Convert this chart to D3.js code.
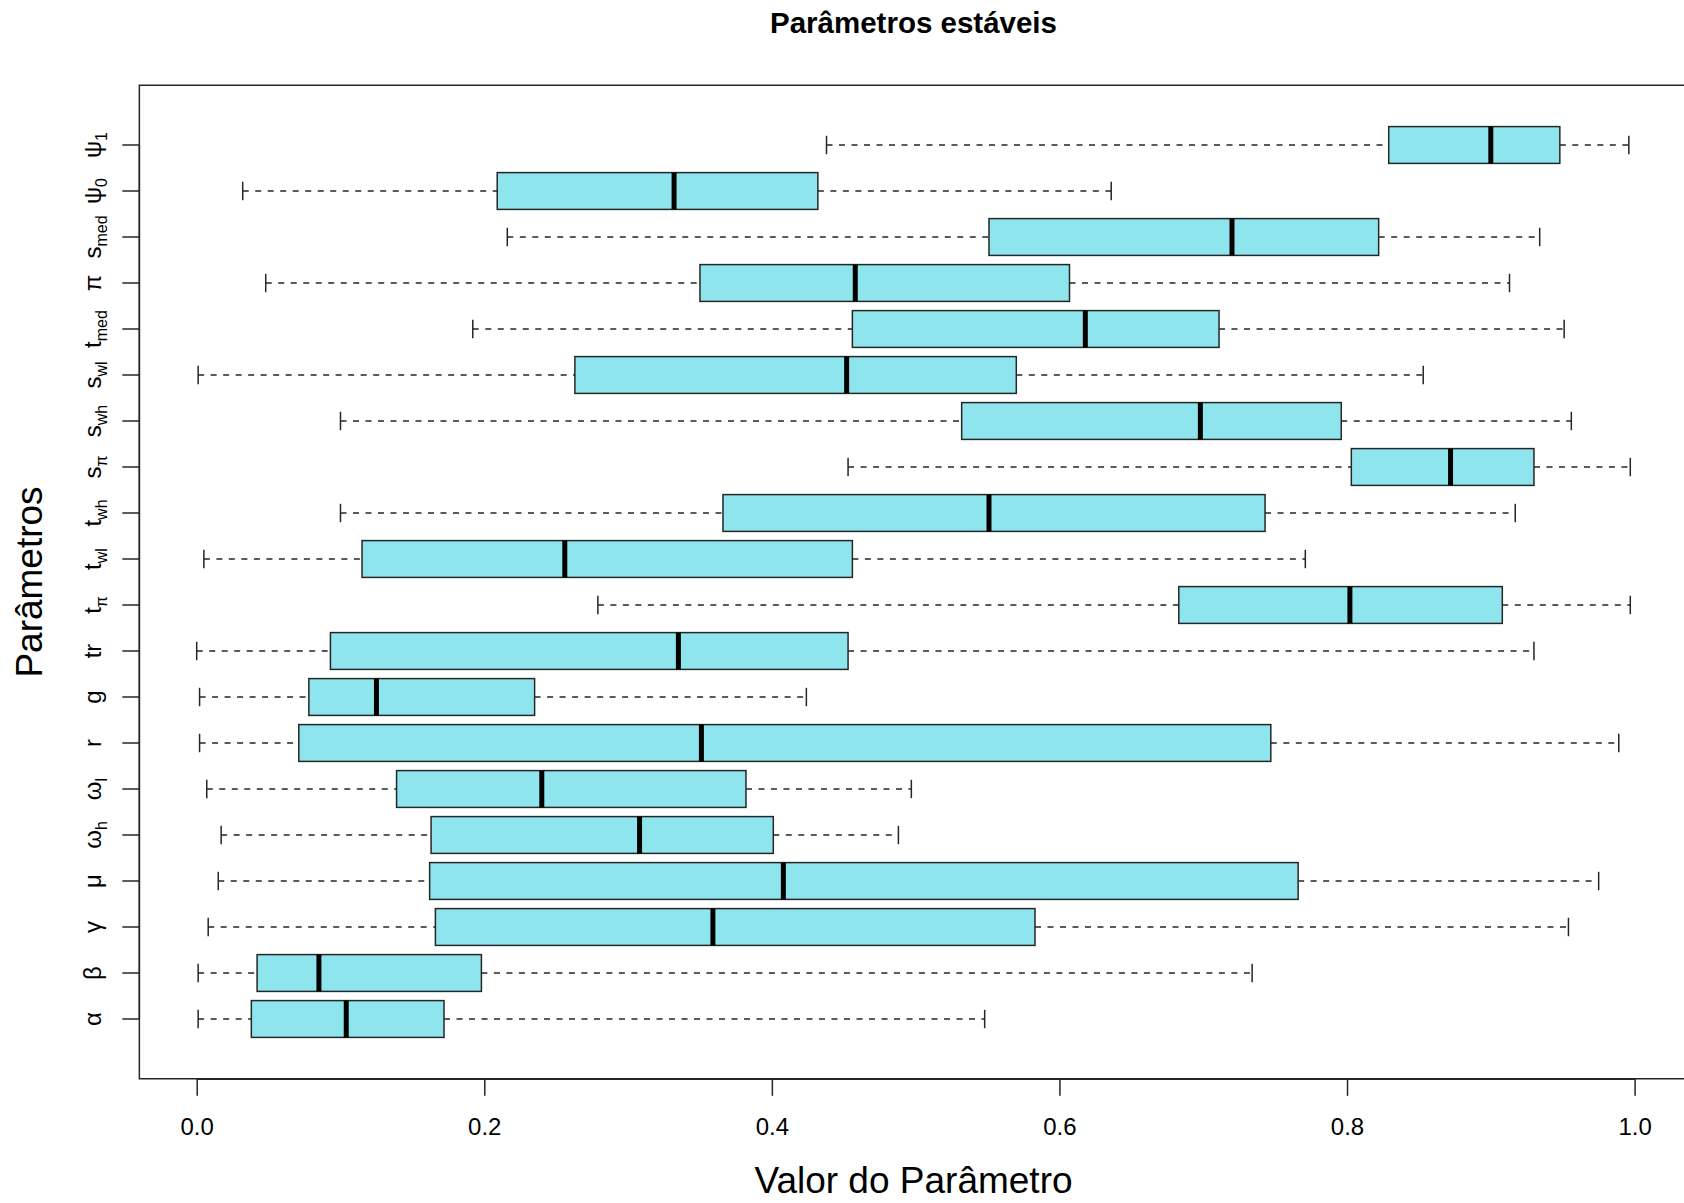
<!DOCTYPE html>
<html>
<head>
<meta charset="utf-8">
<style>
    body { margin: 0; background: white; }
    text { font-family: "Liberation Sans", Arial, sans-serif; fill: black; }
</style>
</head>
<body>
<div class="board"></div>
<script src="https://d3js.org/d3.v7.min.js"></script>
<script>
    // categories, bottom to top (R order)
    labelBase = ["α", "β", "γ", "μ", "ω", "ω", "r", "g", "tr", "t", "t", "t", "s", "s", "s", "t", "π", "s", "ψ", "ψ"]
    labelSub = ["", "", "", "", "h", "l", "", "", "", "π", "wl", "wh", "π", "wh", "wl", "med", "", "med", "0", "1"]

    // five number summaries
    lowWhisker = [0.001, 0.001, 0.008, 0.015, 0.017, 0.007, 0.002, 0.002, 0.000, 0.279, 0.005, 0.100, 0.453, 0.100, 0.001, 0.192, 0.048, 0.216, 0.032, 0.438]
    lowerQuart = [0.038, 0.042, 0.166, 0.162, 0.163, 0.139, 0.071, 0.078, 0.093, 0.683, 0.115, 0.366, 0.803, 0.532, 0.263, 0.456, 0.350, 0.551, 0.209, 0.829]
    medians = [0.104, 0.085, 0.359, 0.408, 0.308, 0.240, 0.351, 0.125, 0.335, 0.802, 0.256, 0.551, 0.872, 0.698, 0.452, 0.618, 0.458, 0.720, 0.332, 0.900]
    upperQuart = [0.172, 0.198, 0.583, 0.766, 0.401, 0.382, 0.747, 0.235, 0.453, 0.908, 0.456, 0.743, 0.930, 0.796, 0.570, 0.711, 0.607, 0.822, 0.432, 0.948]
    highWhisker = [0.548, 0.734, 0.954, 0.975, 0.488, 0.497, 0.989, 0.424, 0.930, 0.997, 0.771, 0.917, 0.997, 0.956, 0.853, 0.951, 0.913, 0.934, 0.636, 0.996]

    xTicks = [0, 0.2, 0.4, 0.6, 0.8, 1.0]

    WIDTH = 1684
    HEIGHT = 1203
    FILL = "#8EE5EE"
    LINE = "#262626"

    let svg = d3.select(".board")
        .append("svg")
        .attr("width", WIDTH)
        .attr("height", HEIGHT)

    let n = labelBase.length
    let idx = d3.range(n)

    let xScale = d3.scaleLinear()
        .domain([0, 1])
        .range([196.7, 1634.6])

    let yScale = d3.scaleLinear()
        .domain([1, n])
        .range([1019, 145])

    // plot region like R's usr (4% extension)
    let xMin = d3.min(lowWhisker), xMax = d3.max(highWhisker)
    let xPad = (xMax - xMin) * 0.04
    let plotLeft = xScale(xMin - xPad), plotRight = xScale(xMax + xPad)
    let plotTop = yScale(n + 0.5 + n * 0.04), plotBottom = yScale(0.5 - n * 0.04)

    let unit = yScale(1) - yScale(2)
    let boxH = 0.8 * unit
    let stapleH = 0.4 * unit

    let plot = svg.append("g")

    // whiskers
    plot.selectAll(".whiskerLow")
        .data(idx)
        .enter()
        .append("line")
        .attr("x1", i => xScale(lowWhisker[i]))
        .attr("x2", i => xScale(lowerQuart[i]))
        .attr("y1", i => yScale(i + 1))
        .attr("y2", i => yScale(i + 1))
        .attr("stroke", LINE)
        .attr("stroke-width", 1.5)
        .attr("stroke-dasharray", "6,6.5")

    plot.selectAll(".whiskerHigh")
        .data(idx)
        .enter()
        .append("line")
        .attr("x1", i => xScale(upperQuart[i]))
        .attr("x2", i => xScale(highWhisker[i]))
        .attr("y1", i => yScale(i + 1))
        .attr("y2", i => yScale(i + 1))
        .attr("stroke", LINE)
        .attr("stroke-width", 1.5)
        .attr("stroke-dasharray", "6,6.5")

    // staples
    let staples = idx.flatMap(i => [lowWhisker[i], highWhisker[i]].map(v => ({ i: i, v: v })))
    plot.selectAll(".staple")
        .data(staples)
        .enter()
        .append("line")
        .attr("x1", d => xScale(d.v))
        .attr("x2", d => xScale(d.v))
        .attr("y1", d => yScale(d.i + 1) - stapleH / 2)
        .attr("y2", d => yScale(d.i + 1) + stapleH / 2)
        .attr("stroke", LINE)
        .attr("stroke-width", 1.5)

    // boxes
    plot.selectAll(".box")
        .data(idx)
        .enter()
        .append("rect")
        .attr("x", i => xScale(lowerQuart[i]))
        .attr("width", i => xScale(upperQuart[i]) - xScale(lowerQuart[i]))
        .attr("y", i => yScale(i + 1) - boxH / 2)
        .attr("height", boxH)
        .attr("fill", FILL)
        .attr("stroke", LINE)
        .attr("stroke-width", 1.5)

    // medians
    plot.selectAll(".median")
        .data(idx)
        .enter()
        .append("line")
        .attr("x1", i => xScale(medians[i]))
        .attr("x2", i => xScale(medians[i]))
        .attr("y1", i => yScale(i + 1) - boxH / 2)
        .attr("y2", i => yScale(i + 1) + boxH / 2)
        .attr("stroke", "black")
        .attr("stroke-width", 5)

    // frame
    svg.append("path")
        .attr("d", `M${plotRight + 20},${plotTop}H${plotLeft}V${plotBottom}H${plotRight + 20}`)
        .attr("fill", "none")
        .attr("stroke", LINE)
        .attr("stroke-width", 1.5)

    // x axis
    let xAxis = svg.append("g")
        .attr("transform", `translate(0, ${plotBottom})`)
        .call(d3.axisBottom(xScale).tickValues(xTicks).tickFormat(d3.format(".1f")).tickSize(17).tickPadding(0))
    xAxis.select(".domain")
        .attr("d", `M${xScale(0)},0.5H${xScale(1)}`)
        .attr("stroke", LINE)
        .attr("stroke-width", 1.5)
    xAxis.selectAll(".tick line").attr("stroke", LINE).attr("stroke-width", 1.5)
    xAxis.selectAll(".tick text")
        .attr("y", 56)
        .attr("dy", 0)
        .style("font-family", "Liberation Sans, Arial, sans-serif")
        .style("font-size", "24px")
        .attr("fill", "#111")

    // y axis
    let yAxis = svg.append("g")
        .attr("transform", `translate(${plotLeft}, 0)`)
    yAxis.append("line")
        .attr("x1", 0)
        .attr("x2", 0)
        .attr("y1", yScale(1))
        .attr("y2", yScale(n))
        .attr("stroke", LINE)
        .attr("stroke-width", 1.5)
    yAxis.selectAll(".ytick")
        .data(idx)
        .enter()
        .append("line")
        .attr("x1", -17)
        .attr("x2", 0)
        .attr("y1", i => yScale(i + 1))
        .attr("y2", i => yScale(i + 1))
        .attr("stroke", LINE)
        .attr("stroke-width", 1.5)

    let yLabels = svg.selectAll(".ylab")
        .data(idx)
        .enter()
        .append("text")
        .attr("transform", i => `translate(101, ${yScale(i + 1)}) rotate(-90)`)
        .attr("text-anchor", "middle")
        .style("font-size", "24px")
        .attr("fill", "#111")
    yLabels.append("tspan").text(i => labelBase[i])
    yLabels.filter(i => labelSub[i] != "")
        .append("tspan")
        .attr("dy", 6)
        .style("font-size", "16px")
        .text(i => labelSub[i])

    // titles
    svg.append("text")
        .attr("x", (plotLeft + plotRight) / 2)
        .attr("y", 33)
        .attr("text-anchor", "middle")
        .style("font-size", "29.5px")
        .style("font-weight", "bold")
        .text("Parâmetros estáveis")

    svg.append("text")
        .attr("x", (plotLeft + plotRight) / 2)
        .attr("y", 1193)
        .attr("text-anchor", "middle")
        .style("font-size", "37px")
        .text("Valor do Parâmetro")

    svg.append("text")
        .attr("transform", `translate(42, ${(plotTop + plotBottom) / 2}) rotate(-90)`)
        .attr("text-anchor", "middle")
        .style("font-size", "37px")
        .text("Parâmetros")
</script>
</body>
</html>
